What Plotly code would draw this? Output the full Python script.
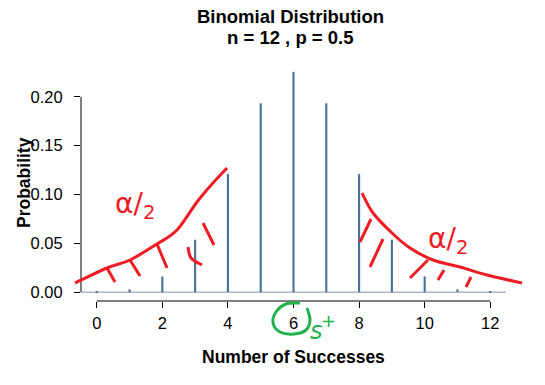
import plotly.graph_objects as go

# ---- data ----
successes = list(range(0, 13))
probabilities = [0.000244, 0.00293, 0.01611, 0.05371, 0.12085, 0.19336, 0.22559,
                 0.19336, 0.12085, 0.05371, 0.01611, 0.00293, 0.000244]
x_ticks = [0, 2, 4, 6, 8, 10, 12]
y_ticks = [0.00, 0.05, 0.10, 0.15, 0.20]
y_tick_labels = ["0.00", "0.05", "0.10", "0.15", "0.20"]
title_line1 = "Binomial Distribution"
title_line2 = "n = 12 , p = 0.5"

# ---- hand-drawn overlay strokes (image pixel space) ----
left_curve = [(75, 283), (107, 268), (130, 260), (157, 244), (177, 230), (197, 202), (213, 183), (227, 168)]
right_curve = [(362, 193), (373, 213), (392, 233), (410, 248), (433, 260), (460, 267), (487, 275), (522, 283)]
left_hatches = [[(107, 268), (115, 282)], [(130, 260), (140, 276)], [(157, 244), (167, 268)],
                [(188, 247), (191, 258), (202, 265)], [(203, 223), (214, 245)]]
right_hatches = [[(371, 219), (360, 242)], [(383, 239), (370, 267)], [(428, 260), (410, 278)],
                 [(444, 270), (438, 280)], [(471, 277), (466, 287)]]
green_circle = [(300, 303), (286, 304), (276, 312), (273, 323), (280, 332), (294, 334), (306, 330), (310, 320), (307, 308)]

W, H = 545, 385
ML, MR, MT, MB = 81, 39, 63, 84
PW, PH = W - ML - MR, H - MT - MB

xmin, xmax = -0.48, 12.48
ymin, ymax = -0.009024, 0.234624


def P(px, py):
    return (px - ML) / PW, (H - MB - py) / PH


def smooth_path(pts):
    pp = [P(*p) for p in pts]
    if len(pp) == 2:
        return "M{},{} L{},{}".format(pp[0][0], pp[0][1], pp[1][0], pp[1][1])
    d = "M{},{}".format(*pp[0])
    for i in range(len(pp) - 1):
        p0 = pp[i - 1] if i > 0 else pp[i]
        p1 = pp[i]
        p2 = pp[i + 1]
        p3 = pp[i + 2] if i + 2 < len(pp) else pp[i + 1]
        c1 = (p1[0] + (p2[0] - p0[0]) / 6, p1[1] + (p2[1] - p0[1]) / 6)
        c2 = (p2[0] - (p3[0] - p1[0]) / 6, p2[1] - (p3[1] - p1[1]) / 6)
        d += " C{},{} {},{} {},{}".format(c1[0], c1[1], c2[0], c2[1], p2[0], p2[1])
    return d


FONT = "Liberation Sans, Arial, Helvetica, sans-serif"
BAR = "#4a7196"
RED = "#ee1c24"
GREEN = "#22b14c"

fig = go.Figure()
fig.add_trace(go.Bar(x=successes, y=probabilities, width=0.065,
                     marker=dict(color=BAR, line=dict(width=0)), hoverinfo="x+y"))

shapes = []
# gray baseline at y = 0
shapes.append(dict(type="line", xref="paper", yref="y", x0=0, x1=1, y0=0, y1=0,
                   line=dict(color="#aeb8c4", width=1.5), layer="below"))
# R-style axis lines
shapes.append(dict(type="line", xref="x", yref="paper", x0=x_ticks[0], x1=x_ticks[-1], y0=0, y1=0,
                   line=dict(color="black", width=1)))
shapes.append(dict(type="line", xref="paper", yref="y", x0=0, x1=0, y0=y_ticks[0], y1=y_ticks[-1],
                   line=dict(color="black", width=1)))

for stroke in [left_curve, right_curve] + left_hatches + right_hatches:
    shapes.append(dict(type="path", xref="paper", yref="paper", path=smooth_path(stroke),
                       line=dict(color=RED, width=3)))
shapes.append(dict(type="path", xref="paper", yref="paper", path=smooth_path(green_circle),
                   line=dict(color=GREEN, width=3)))

annotations = []


def text(px, py, s, size, bold=False, color="black", angle=0, family=FONT):
    x, y = P(px, py)
    annotations.append(dict(xref="paper", yref="paper", x=x, y=y, text=("<b>%s</b>" % s) if bold else s,
                            showarrow=False, xanchor="center", yanchor="middle", textangle=angle,
                            font=dict(size=size, color=color, family=family)))


text(290, 16, title_line1, 18.5, bold=True)
text(290, 38, title_line2, 18.5, bold=True)
text(293, 357, "Number of Successes", 17.5, bold=True)
text(24, 183, "Probability", 17.5, bold=True, angle=-90)
text(135, 205, "α/<sub>2</sub>", 28, color=RED, family="DejaVu Sans")
text(448, 240, "α/<sub>2</sub>", 28, color=RED, family="DejaVu Sans")
text(316, 331, "<i>s</i>", 24, color=GREEN, family="DejaVu Sans")
text(328, 320, "+", 18, color=GREEN, family="DejaVu Sans")

fig.update_layout(
    width=W, height=H,
    margin=dict(l=ML, r=MR, t=MT, b=MB, pad=0),
    paper_bgcolor="white", plot_bgcolor="white",
    showlegend=False,
    shapes=shapes, annotations=annotations,
    font=dict(family=FONT, size=16.5, color="black"),
    xaxis=dict(range=[xmin, xmax], tickvals=x_ticks, ticks="outside", ticklen=6, tickwidth=1,
               tickcolor="black", showline=False, showgrid=False, zeroline=False,
               ticklabelstandoff=1, tickfont=dict(size=16.5, family=FONT)),
    yaxis=dict(range=[ymin, ymax], tickvals=y_ticks, ticktext=y_tick_labels, ticks="outside",
               ticklen=6, tickwidth=1, tickcolor="black", showline=False, showgrid=False,
               zeroline=False, ticklabelstandoff=8, tickfont=dict(size=16.5, family=FONT)),
)

fig.write_html("out.html", config={"displayModeBar": False},
               post_script="document.body.style.margin='0px';document.body.style.overflow='hidden';")
